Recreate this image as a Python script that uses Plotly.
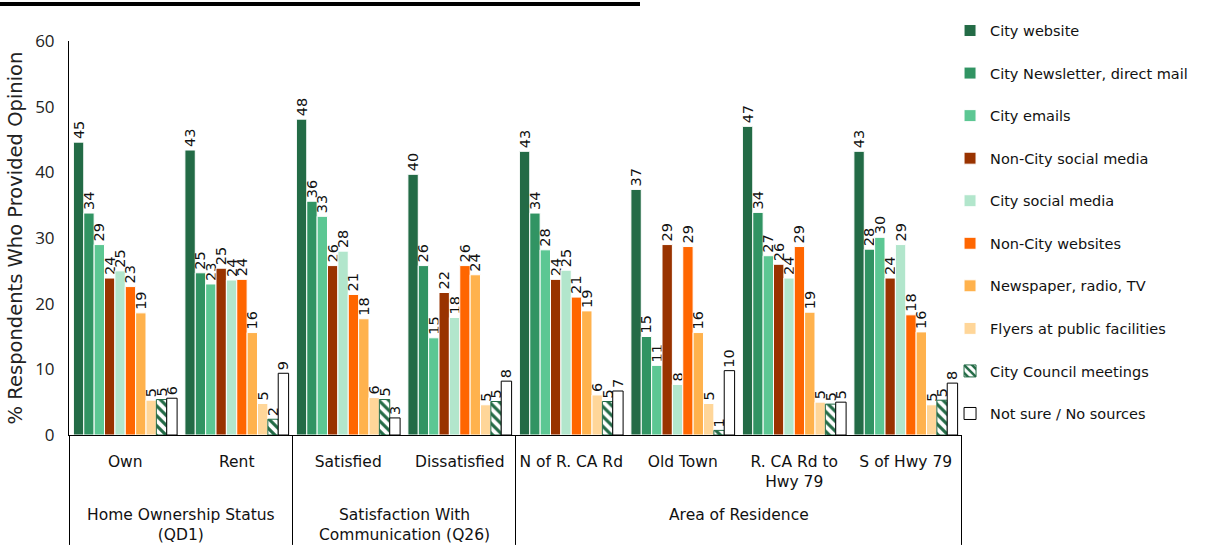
import plotly.graph_objects as go

categories = ["Own", "Rent", "Satisfied", "Dissatisfied", "N of R. CA Rd",
              "Old Town", "R. CA Rd to<br>Hwy 79", "S of Hwy 79"]
group_labels = ["Home Ownership Status<br>(QD1)",
                "Satisfaction With<br>Communication (Q26)",
                "Area of Residence"]
group_spans = [(0, 1), (2, 3), (4, 7)]

series_names = ["City website", "City Newsletter, direct mail", "City emails",
                "Non-City social media", "City social media", "Non-City websites",
                "Newspaper, radio, TV", "Flyers at public facilities",
                "City Council meetings", "Not sure / No sources"]

city_website = [44.6, 43.4, 48.1, 39.7, 43.2, 37.4, 47.0, 43.2]
city_newsletter = [33.8, 24.7, 35.6, 25.8, 33.8, 15.0, 33.9, 28.3]
city_emails = [29.0, 23.0, 33.3, 14.8, 28.2, 10.6, 27.3, 30.1]
non_city_social = [23.9, 25.4, 25.8, 21.7, 23.7, 29.0, 26.0, 23.9]
city_social = [25.0, 23.6, 28.0, 17.9, 25.1, 7.7, 23.9, 29.0]
non_city_websites = [22.6, 23.7, 21.4, 25.8, 21.0, 28.7, 28.7, 18.3]
newspaper = [18.6, 15.6, 17.7, 24.4, 18.9, 15.6, 18.7, 15.7]
flyers = [5.3, 4.8, 5.7, 4.6, 6.1, 4.8, 5.0, 4.6]
council = [5.4, 2.4, 5.4, 5.1, 5.1, 0.7, 4.7, 5.3]
not_sure = [5.6, 9.4, 2.6, 8.2, 6.7, 9.8, 5.0, 7.9]

values = [city_website, city_newsletter, city_emails, non_city_social, city_social,
          non_city_websites, newspaper, flyers, council, not_sure]

colors = ["#236B46", "#319463", "#5CC793", "#993300", "#B2E6CC",
          "#FF6600", "#FFB24D", "#FFD699", "#FFFFFF", "#FFFFFF"]

LABEL_FONT = "DejaVu Sans, Verdana, sans-serif"
AXIS_FONT = "Open Sans, Noto Sans, sans-serif"
CAT_FONT = "DejaVu Sans, sans-serif"

fig = go.Figure()
for i, (name, vals) in enumerate(zip(series_names, values)):
    marker = dict(color=colors[i], line=dict(color="white", width=1))
    if name == "City Council meetings":
        marker = dict(color="#236B46",
                      pattern=dict(shape="\\", fgcolor="#236B46", bgcolor="white",
                                   size=7, solidity=0.45, fillmode="replace"),
                      line=dict(color="#236B46", width=1))
    elif name == "Not sure / No sources":
        marker = dict(color="white", line=dict(color="black", width=1))
    fig.add_trace(go.Bar(
        name=name, x=categories, y=vals, marker=marker,
        legendgroup=f"g{i}",
        texttemplate="%{y:.0f}", textposition="outside", textangle=-90,
        constraintext="none", cliponaxis=False,
        textfont=dict(family=LABEL_FONT, size=14.5, color="#111111"),
    ))

fig.update_layout(
    width=1206, height=548,
    margin=dict(l=69, r=244, t=41, b=113, autoexpand=False),
    paper_bgcolor="white", plot_bgcolor="white",
    barmode="group", bargap=0.07, bargroupgap=0,
    showlegend=True,
    legend=dict(x=0.9866, xanchor="left", y=1.067, yanchor="top",
                font=dict(family=LABEL_FONT, size=14.5, color="#111111"),
                tracegroupgap=20.7, traceorder="grouped", maxheight=540,
                bgcolor="rgba(0,0,0,0)"),
    font=dict(family=AXIS_FONT, color="#222222"),
)

fig.update_yaxes(
    range=[0, 60], dtick=10, showgrid=False, zeroline=False,
    showline=True, linecolor="black", linewidth=1, ticks="",
    ticklabelstandoff=10,
    tickfont=dict(family=AXIS_FONT, size=17, color="#222222"),
    title=dict(text="% Respondents Who Provided Opinion",
               font=dict(family=LABEL_FONT, size=19.5, color="#222222"), standoff=7),
)
fig.update_xaxes(
    type="category", showgrid=False, showline=True, linecolor="black", linewidth=1,
    ticks="", ticklabelstandoff=12,
    tickfont=dict(family=CAT_FONT, size=15.5, color="#111111"),
)

# divider lines for the category table
for x in [-0.5, 1.5, 3.5, 7.5]:
    fig.add_shape(type="line", xref="x", yref="paper", x0=x, x1=x, y0=0, y1=-0.279,
                  line=dict(color="black", width=1))

# outer group labels
for (a, b), lab in zip(group_spans, group_labels):
    fig.add_annotation(x=(a + b) / 2, xref="x", y=-0.176, yref="paper",
                       text=lab, showarrow=False, yanchor="top",
                       font=dict(family=CAT_FONT, size=15.5, color="#111111"))

# decorative header rule
fig.add_shape(type="line", xref="paper", yref="paper",
              x0=-69 / 893, x1=(640 - 69) / 893, y0=1 + 37 / 394, y1=1 + 37 / 394,
              line=dict(color="black", width=4))

fig.write_html("out.html", config={"displayModeBar": False},
               post_script="document.body.style.margin='0px';")
